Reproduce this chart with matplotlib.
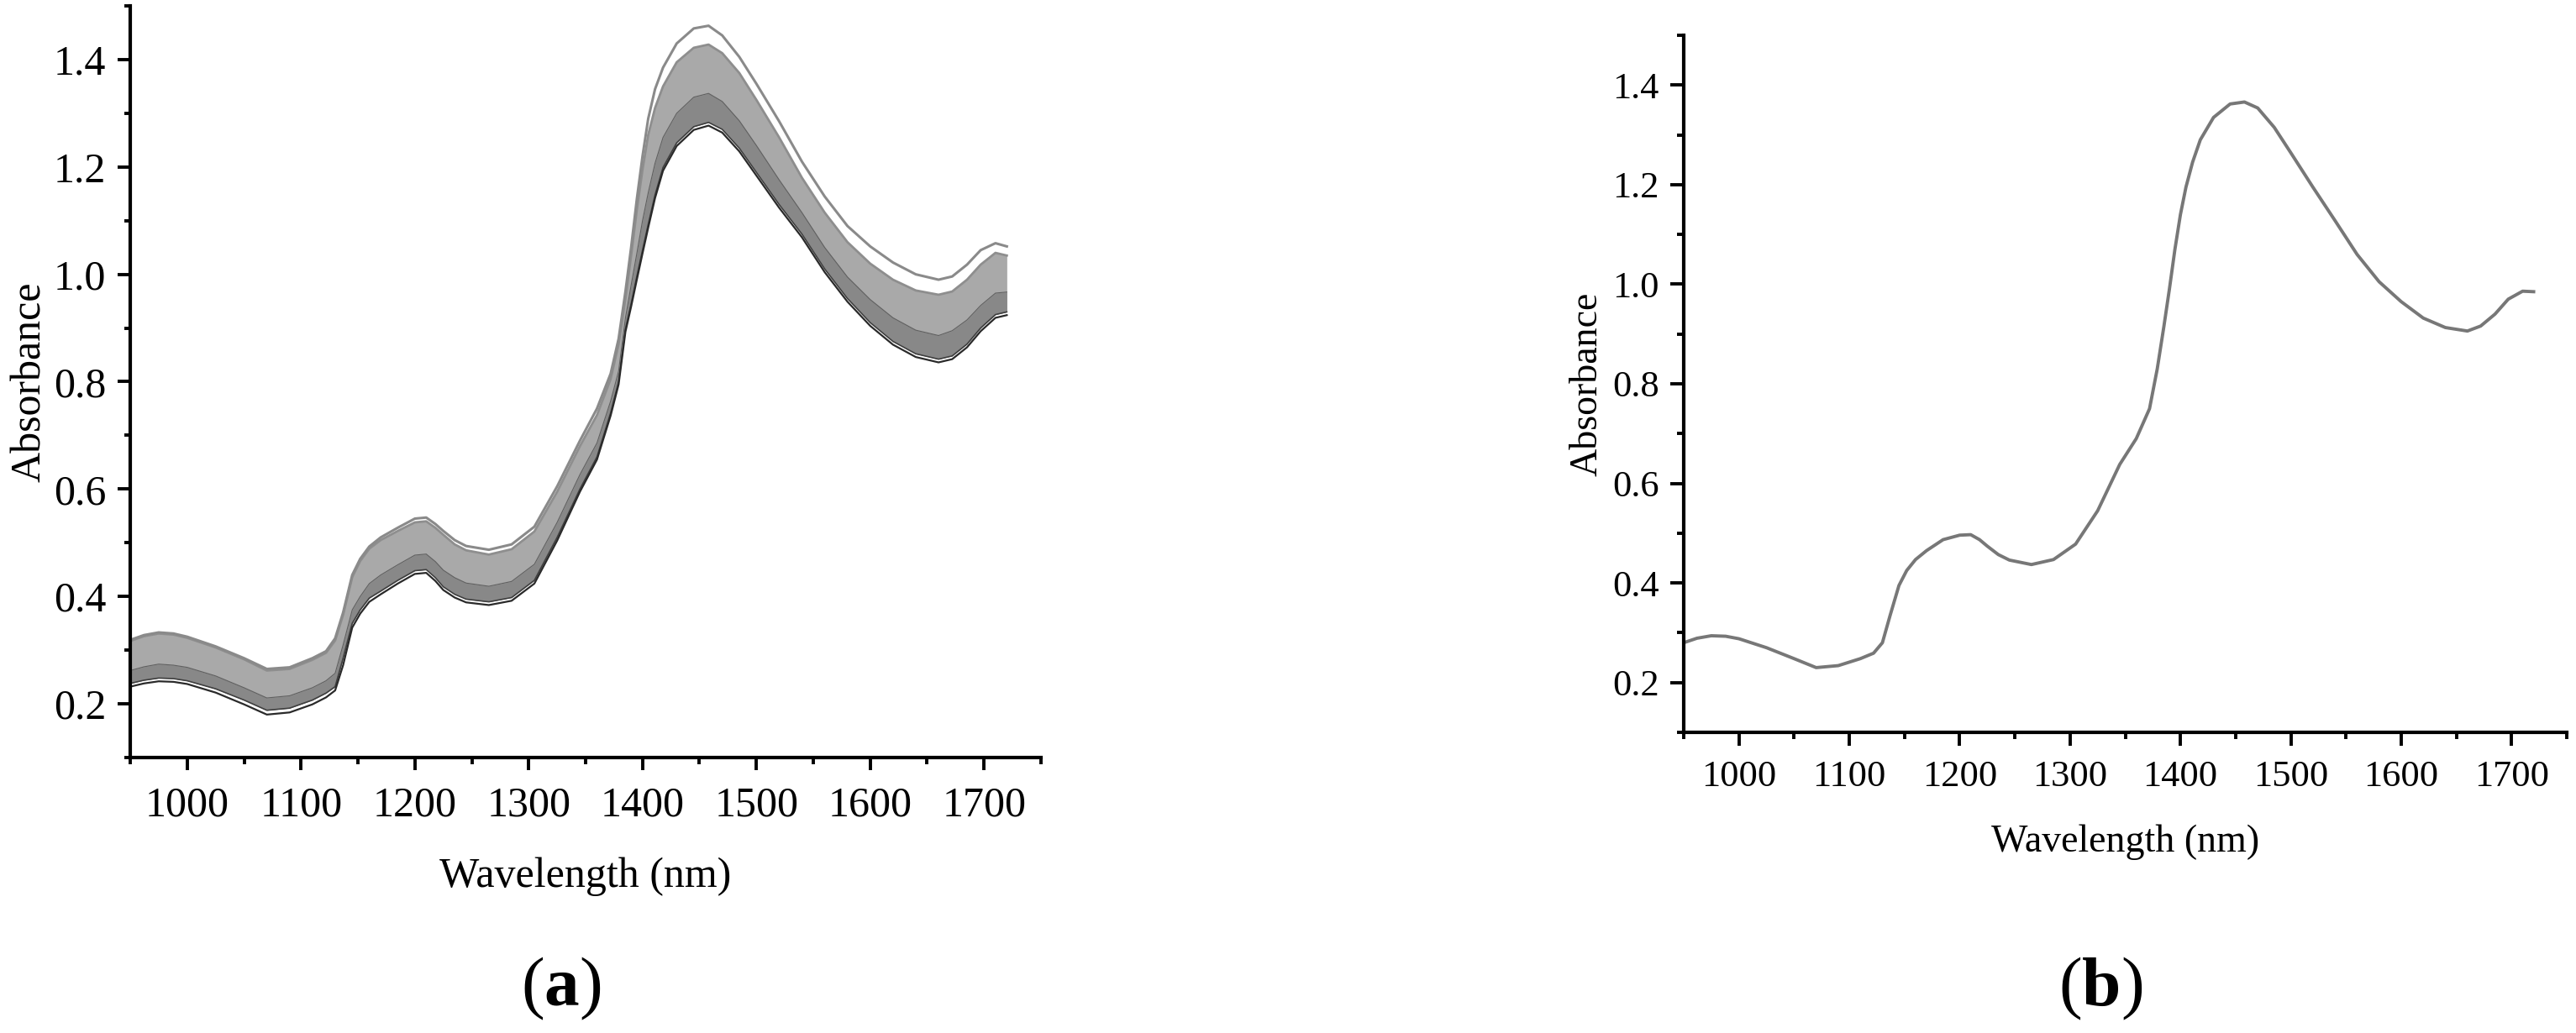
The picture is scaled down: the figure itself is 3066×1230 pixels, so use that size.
import numpy as np
import matplotlib
matplotlib.use("Agg")
import matplotlib.pyplot as plt
from matplotlib.ticker import MultipleLocator

plt.rcParams['font.family'] = ['Liberation Serif', 'DejaVu Serif']
plt.rcParams['mathtext.fontset'] = 'custom'
plt.rcParams['mathtext.bf'] = 'Liberation Serif:bold'
plt.rcParams['mathtext.rm'] = 'Liberation Serif'

# ---- data ----
wavelength = [950, 962, 975, 988, 1000, 1025, 1050, 1070, 1090, 1110, 1122, 1130,
              1137, 1145, 1152, 1160, 1170, 1185, 1200, 1210, 1218, 1225, 1235, 1245,
              1265, 1285, 1305, 1325, 1345, 1360, 1372, 1379, 1385, 1390, 1395, 1400,
              1405, 1411, 1418, 1430, 1445, 1458, 1470, 1485, 1500, 1520, 1540, 1560,
              1580, 1600, 1620, 1640, 1660, 1672, 1685, 1697, 1710, 1720]

# (a) all samples
# highest spectra (separate grey lines on top of the bundle)
a_upper = [0.319, 0.328, 0.333, 0.331, 0.325, 0.307, 0.285, 0.265, 0.268, 0.285, 0.298, 0.322,
           0.370, 0.440, 0.470, 0.493, 0.510, 0.528, 0.545, 0.547, 0.535, 0.522, 0.505, 0.494,
           0.487, 0.497, 0.530, 0.605, 0.690, 0.750, 0.815, 0.880, 0.968, 1.050, 1.140, 1.220,
           1.290, 1.345, 1.385, 1.430, 1.458, 1.463, 1.445, 1.405, 1.355, 1.285, 1.210, 1.145,
           1.090, 1.052, 1.022, 1.000, 0.990, 0.996, 1.018, 1.045, 1.058, 1.052]
# top of the dense bundle
a_band_top = [0.317, 0.326, 0.331, 0.329, 0.323, 0.305, 0.283, 0.262, 0.265, 0.282, 0.295, 0.318,
              0.366, 0.436, 0.466, 0.489, 0.505, 0.522, 0.538, 0.540, 0.528, 0.515, 0.497, 0.486,
              0.478, 0.488, 0.521, 0.595, 0.680, 0.738, 0.805, 0.870, 0.955, 1.035, 1.120, 1.195,
              1.260, 1.310, 1.350, 1.395, 1.422, 1.428, 1.412, 1.375, 1.325, 1.255, 1.180, 1.115,
              1.060, 1.020, 0.990, 0.970, 0.962, 0.968, 0.990, 1.018, 1.040, 1.035]
# upper edge of the darker lower cluster
a_dark = [0.262, 0.269, 0.274, 0.272, 0.268, 0.252, 0.230, 0.211, 0.215, 0.230, 0.243, 0.257,
          0.310, 0.375, 0.400, 0.424, 0.440, 0.459, 0.477, 0.479, 0.465, 0.449, 0.435, 0.425,
          0.419, 0.428, 0.460, 0.538, 0.627, 0.686, 0.764, 0.820, 0.919, 0.980, 1.039, 1.100,
          1.152, 1.207, 1.255, 1.300, 1.330, 1.337, 1.322, 1.286, 1.240, 1.176, 1.115, 1.050,
          0.995, 0.953, 0.919, 0.896, 0.886, 0.895, 0.915, 0.942, 0.965, 0.967]
# bottom of the dense bundle
a_lower = [0.238, 0.244, 0.248, 0.247, 0.243, 0.228, 0.207, 0.188, 0.192, 0.207, 0.220, 0.232,
           0.285, 0.350, 0.375, 0.397, 0.410, 0.430, 0.448, 0.450, 0.435, 0.418, 0.404, 0.395,
           0.390, 0.398, 0.430, 0.510, 0.600, 0.660, 0.742, 0.800, 0.898, 0.945, 0.996, 1.045,
           1.093, 1.148, 1.199, 1.245, 1.275, 1.283, 1.270, 1.235, 1.190, 1.130, 1.075, 1.010,
           0.955, 0.910, 0.875, 0.852, 0.842, 0.848, 0.870, 0.900, 0.925, 0.930]
# lowest single spectrum (black line)
a_lowest = [0.232, 0.238, 0.242, 0.241, 0.237, 0.221, 0.199, 0.180, 0.184, 0.199, 0.212, 0.225,
            0.272, 0.342, 0.368, 0.390, 0.404, 0.424, 0.442, 0.444, 0.429, 0.412, 0.398, 0.389,
            0.384, 0.392, 0.424, 0.504, 0.595, 0.655, 0.737, 0.795, 0.893, 0.940, 0.990, 1.039,
            1.087, 1.142, 1.193, 1.239, 1.269, 1.277, 1.264, 1.229, 1.184, 1.124, 1.069, 1.004,
            0.949, 0.904, 0.869, 0.846, 0.836, 0.842, 0.864, 0.894, 0.919, 0.924]

# (b) average spectrum
b_mean = [0.280, 0.289, 0.294, 0.293, 0.288, 0.270, 0.248, 0.230, 0.234, 0.248, 0.259, 0.280,
          0.335, 0.395, 0.425, 0.447, 0.465, 0.487, 0.496, 0.497, 0.487, 0.474, 0.457, 0.446,
          0.437, 0.447, 0.478, 0.545, 0.638, 0.690, 0.750, 0.830, 0.915, 0.990, 1.070, 1.140,
          1.195, 1.245, 1.290, 1.335, 1.362, 1.366, 1.354, 1.315, 1.264, 1.195, 1.128, 1.060,
          1.005, 0.965, 0.932, 0.913, 0.906, 0.916, 0.940, 0.970, 0.986, 0.985]

W, H = 3066, 1230
fig = plt.figure(figsize=(W / 100, H / 100), dpi=100)

ax_a = fig.add_axes([155 / W, 1 - 902 / H, 1084 / W, 895 / H])
ax_b = fig.add_axes([2004 / W, 1 - 872 / H, 1051 / W, 830 / H])

wl = np.array(wavelength)
ax_a.fill_between(wl, a_lower, a_band_top, color='#a9a9a9', lw=0)
ax_a.fill_between(wl, a_lower, a_dark, color='#888888', lw=0)
ax_a.plot(wl, a_dark, color='#606060', lw=0.8)
ax_a.plot(wl, a_band_top, color='#8e8e8e', lw=2.0)
ax_a.plot(wl, a_upper, color='#8a8a8a', lw=2.2)
ax_a.plot(wl, a_lower, color='#404040', lw=1.2)
ax_a.plot(wl, a_lowest, color='#2a2a2a', lw=1.6)

ax_b.plot(wl, b_mean, color='#777777', lw=2.8)


def style(ax, fs, xpad, ypad, tlen):
    ax.set_xlim(950, 1750)
    ax.set_ylim(0.1, 1.5)
    ax.xaxis.set_major_locator(MultipleLocator(100))
    ax.xaxis.set_minor_locator(MultipleLocator(50))
    ax.yaxis.set_major_locator(MultipleLocator(0.2))
    ax.yaxis.set_minor_locator(MultipleLocator(0.1))
    ax.yaxis.set_major_formatter(lambda v, p: f"{v:.1f}")
    for s in ['top', 'right']:
        ax.spines[s].set_visible(False)
    for s in ['left', 'bottom']:
        ax.spines[s].set_linewidth(3.0)
    ax.tick_params(which='major', direction='out', length=tlen, width=2.8, labelsize=fs)
    ax.tick_params(which='minor', direction='out', length=tlen / 2, width=2.8)
    ax.tick_params(axis='x', which='major', pad=xpad)
    ax.tick_params(axis='y', which='major', pad=ypad)


style(ax_a, 36, 13.5, 10, 10.8)
style(ax_b, 32, 12.5, 9.4, 11.5)

ax_a.set_xlabel('Wavelength (nm)', fontsize=36)
ax_a.set_ylabel('Absorbance', fontsize=36)
ax_a.xaxis.set_label_coords(0.5, -0.1327)
ax_a.yaxis.set_label_coords(-0.0887, 0.5)

ax_b.set_xlabel('Wavelength (nm)', fontsize=33)
ax_b.set_ylabel('Absorbance', fontsize=33)
ax_b.xaxis.set_label_coords(0.5, -0.1322)
ax_b.yaxis.set_label_coords(-0.0885, 0.5)

fig.text(668 / W, 1 - 1177 / H, r'($\mathbf{a}$)', fontsize=60, ha='center', va='center')
fig.text(2500 / W, 1 - 1177 / H, r'($\mathbf{b}$)', fontsize=60, ha='center', va='center')

fig.savefig('out.png', dpi=100, facecolor='white')
